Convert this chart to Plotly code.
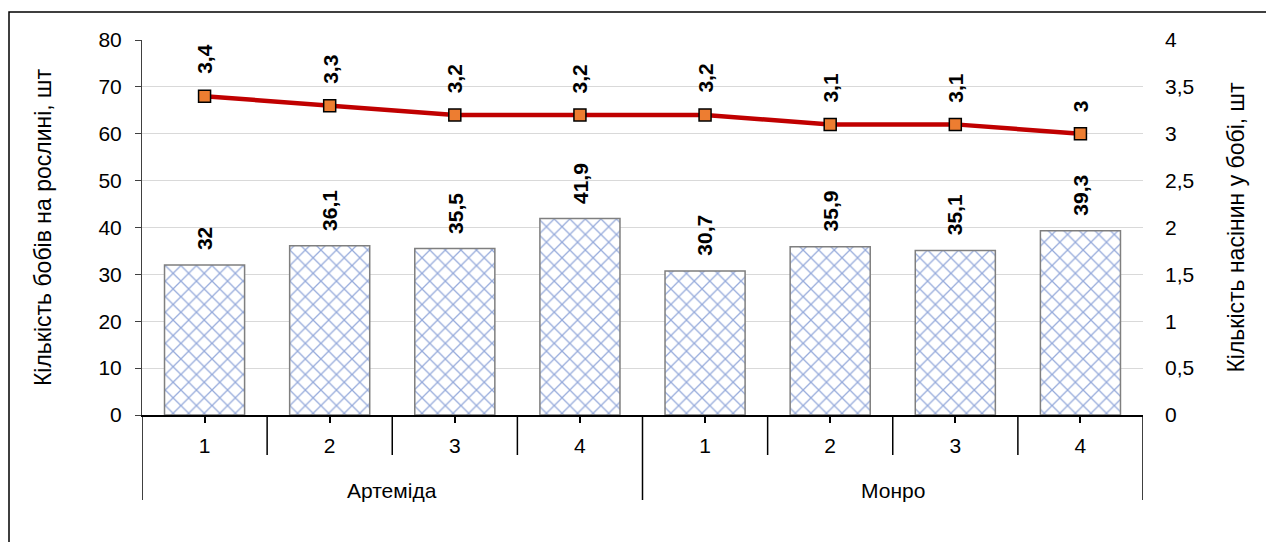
import plotly.graph_objects as go

groups = ["Артеміда"] * 4 + ["Монро"] * 4
levels = ["1", "2", "3", "4", "1", "2", "3", "4"]
pods = [32, 36.1, 35.5, 41.9, 30.7, 35.9, 35.1, 39.3]
seeds = [3.4, 3.3, 3.2, 3.2, 3.2, 3.1, 3.1, 3.0]

def fmt(v):
    return ("%g" % v).replace(".", ",")

FONT = "Liberation Sans, Arial, sans-serif"

idx = list(range(len(pods)))

fig = go.Figure()
fig.add_trace(go.Bar(
    x=idx, y=pods, width=0.64,
    marker=dict(color="white",
                line=dict(color="#7F7F7F", width=1.5),
                pattern=dict(shape="x", fgcolor="#2F58B8", bgcolor="white", size=11, solidity=0.22)),
    showlegend=False, yaxis="y", hoverinfo="y",
))
fig.add_trace(go.Scatter(
    x=idx, y=seeds, yaxis="y2", mode="lines+markers",
    line=dict(color="#C00000", width=4.5),
    marker=dict(symbol="square", size=12, color="#ED7D31", line=dict(color="black", width=1.5)),
    showlegend=False, cliponaxis=False,
))
for i, v in enumerate(pods):
    fig.add_annotation(x=i, y=v, xref="x", yref="y", text=fmt(v), textangle=-90,
                       showarrow=False, yanchor="bottom", yshift=13,
                       font=dict(family=FONT, size=21, color="black", weight="bold"))
for i, v in enumerate(seeds):
    fig.add_annotation(x=i, y=v, xref="x", yref="y2", text=fmt(v), textangle=-90,
                       showarrow=False, yanchor="bottom", yshift=20,
                       font=dict(family=FONT, size=21, color="black", weight="bold"))

# page offset compensation (8px body margin)
ml, mr, mt, mb = 134, 131, 32, 127
W, H = 1266, 534
pw, ph = W - ml - mr, H - mt - mb

# category boundaries and group dividers below the axis
n = len(pods)
for b in range(n + 1):
    is_group = b == 0 or b == n or groups[b] != groups[b - 1]
    depth = 85 if is_group else 40
    fig.add_shape(type="line", xref="x", yref="paper", x0=b - 0.5, x1=b - 0.5,
                  y0=0, y1=-depth / ph, line=dict(color="black", width=1.5))
# group labels
seen = []
for g in groups:
    if g not in seen:
        seen.append(g)
for g in seen:
    pos = [i for i, gg in enumerate(groups) if gg == g]
    fig.add_annotation(x=sum(pos) / len(pos), xref="x", y=-75 / ph, yref="paper", text=g,
                       showarrow=False, yanchor="middle",
                       font=dict(family=FONT, size=21, color="black"))

fig.add_shape(type="rect", xref="paper", yref="paper",
              x0=(1 - ml) / pw, x1=(1300 - ml) / pw,
              y0=(mt + ph - 600) / ph, y1=(mt + ph - 4) / ph,
              line=dict(color="black", width=1.5), fillcolor="rgba(0,0,0,0)", layer="below")

fig.update_layout(
    width=W, height=H, margin=dict(l=ml, r=mr, t=mt, b=mb),
    paper_bgcolor="white", plot_bgcolor="white", separators=", ",
    font=dict(family=FONT, size=21, color="black"),
    xaxis=dict(range=[-0.5, n - 0.5], tickvals=idx, ticktext=levels,
               showline=True, linecolor="black", linewidth=1.5,
               ticks="outside", ticklen=6, tickcolor="black", tickwidth=1.5,
               ticklabelstandoff=5,
               tickfont=dict(family=FONT, size=21, color="black"), showgrid=False, zeroline=False),
    yaxis=dict(range=[0, 80], dtick=10, showline=True, linecolor="#404040", linewidth=1,
               ticks="outside", ticklen=6, tickcolor="#404040", showgrid=True, gridcolor="#D9D9D9",
               gridwidth=1.3, zeroline=False, ticklabelstandoff=9,
               title=dict(text="Кількість бобів на рослині, шт", font=dict(family=FONT, size=23), standoff=40),
               tickfont=dict(family=FONT, size=21, color="black")),
    yaxis2=dict(range=[0, 4], dtick=0.5, overlaying="y", side="right", showgrid=False,
                showline=False, ticks="", zeroline=False, ticklabelstandoff=21,
                title=dict(text="Кількість насінин у бобі, шт", font=dict(family=FONT, size=23), standoff=34),
                tickfont=dict(family=FONT, size=21, color="black")),
)
fig.write_html("out.html")
